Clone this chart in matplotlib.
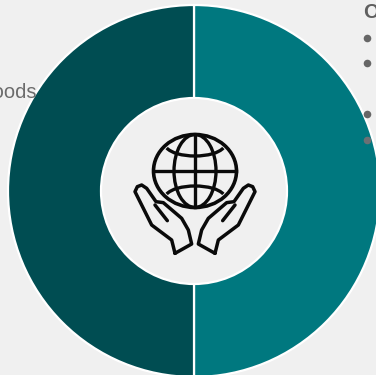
import numpy as np
import matplotlib
matplotlib.use("Agg")
import matplotlib.pyplot as plt
from matplotlib.patches import Circle, Ellipse, Arc

W, H = 376, 375
BG = "#f0f0f0"

# donut data
shares = [50, 50]
colors = ["#00787f", "#004d52"]

# bullet rows of the clipped list on the right
bullet_x = [367, 367, 367, 367]
bullet_y = [38, 63, 114, 140]


def py(y):
    # work in pixels measured from the top of the figure
    return H - y


def hand(ax, mirror=False):
    outline = [(165, 400), (155, 360), (95, 315), (45, 215), (52, 200), (65, 195), (80, 205),
               (108, 245), (130, 248), (185, 295), (205, 330), (215, 372), (165, 400)]
    finger = [(105, 255), (142, 302)]
    for pts in (outline, finger):
        xs = [120 + (450 - p[0] if mirror else p[0]) / 3 for p in pts]
        ys = [py(120 + p[1] / 3) for p in pts]
        ax.plot(xs, ys, color="#0a0a0a", lw=2.5, solid_joinstyle="round", solid_capstyle="round")


fig = plt.figure(figsize=(W / 100, H / 100), dpi=100, facecolor=BG)
ax = fig.add_axes([0, 0, 1, 1])
ax.set_facecolor(BG)

# text sits under the donut
ax.text(36, py(97.5), "Goods", color="#6b6b6b", fontsize=14.5, family="Liberation Sans", ha="right", va="baseline")
ax.text(363.5, py(18.5), "Our", color="#5f5f5f", fontsize=14.5, family="Liberation Sans", weight="bold", ha="left", va="baseline")

cx, cy = 194, py(191)
ax.pie(shares, colors=colors, startangle=90, counterclock=False, center=(cx, cy), radius=186,
       frame=True, wedgeprops=dict(edgecolor="white", linewidth=1.6))
ax.scatter(bullet_x[:3], [py(y) for y in bullet_y[:3]], s=30, color="#666666", linewidths=0, zorder=5)
ax.scatter(bullet_x[3:], [py(y) for y in bullet_y[3:]], s=30, color="#6c7074", linewidths=0, zorder=5)

# centre of the ring
ax.add_patch(Circle((cx, cy), 93, facecolor=BG, edgecolor="white", lw=1.6, zorder=6))

# globe icon, slightly squashed
gx, gy = 195, py(171)
ink = dict(color="#0a0a0a", lw=2.4, zorder=7)
ax.add_patch(Ellipse((gx, gy), 83, 73, fill=False, ec=ink["color"], lw=2.6, zorder=7))
ax.add_patch(Ellipse((gx, gy), 42, 73, fill=False, ec=ink["color"], lw=2.4, zorder=7))
ax.plot([gx, gx], [gy - 36, gy + 36], **ink)
ax.plot([gx - 41, gx + 41], [gy, gy], **ink)
ax.add_patch(Arc((gx, gy + 27), 60, 24, theta1=188, theta2=352, ec=ink["color"], lw=2.4, zorder=7))
ax.add_patch(Arc((gx, gy - 27), 60, 24, theta1=8, theta2=172, ec=ink["color"], lw=2.4, zorder=7))

hand(ax)
hand(ax, mirror=True)
for line in ax.lines:
    line.set_zorder(7)

ax.set_xlim(0, W)
ax.set_ylim(0, H)
ax.set_aspect("auto")
ax.axis("off")

fig.savefig("out.png", dpi=100, facecolor=BG)
